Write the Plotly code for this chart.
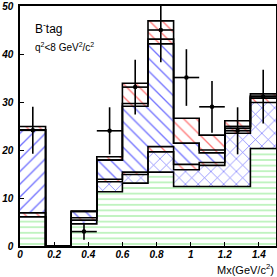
import numpy as np
import plotly.graph_objects as go

# ---- data ----
bin_edges = [0.0, 0.15, 0.30, 0.45, 0.60, 0.75, 0.90, 1.05, 1.20, 1.35, 1.50]
bin_centers = [0.075, 0.225, 0.375, 0.525, 0.675, 0.825, 0.975, 1.125, 1.275, 1.425]

green = [6.1, 0.0, 4.6, 11.3, 13.1, 15.4, 12.4, 12.4, 12.4, 20.3]
cross = [0.0, 0.0, 0.8, 2.1, 1.8, 4.2, 3.5, 4.4, 11.1, 9.6]
pink = [0.8, 0.0, 0.5, 0.5, 0.5, 1.1, 1.1, 0.6, 1.0, 0.9]
blue = [17.3, 0.0, 1.3, 4.0, 13.7, 21.4, 4.4, 2.0, 0.4, 0.4]
thin = [0.0, 0.0, 0.0, 0.0, 0.6, 1.0, 0.0, 0.6, 0.0, 0.0]
red = [0.7, 0.0, 0.1, 0.7, 4.2, 3.8, 5.2, 3.1, 1.2, 0.5]

data_y = [24.1, None, 3.0, 24.0, 33.1, 45.0, 35.1, 29.0, 24.0, 31.1]
data_err = [4.9, None, 1.7, 4.9, 5.7, 6.7, 5.9, 5.4, 4.9, 5.6]

x_tick_vals = [0, 0.2, 0.4, 0.6, 0.8, 1.0, 1.2, 1.4]
x_tick_text = ["0", "0.2", "0.4", "0.6", "0.8", "1", "1.2", "1.4"]
y_tick_vals = [0, 10, 20, 30, 40, 50]
y_tick_text = ["0", "10", "20", "30", "40", "50"]

# ---- build stack ----
components = [green, cross, pink, blue, thin, red]
levels = np.cumsum(np.array(components), axis=0)
bases = np.vstack([np.zeros(len(bin_centers)), levels[:-1]])

blue_shapes = ["/"] + ["\\"] * (len(bin_centers) - 1)
BLUE = "rgb(115,115,255)"
RED = "rgb(255,120,120)"
styles = [
    dict(shape="-", fgcolor="rgb(150,235,150)", size=5.6, solidity=0.2),
    dict(shape="x", fgcolor=BLUE, size=9, solidity=0.15),
    dict(shape="\\", fgcolor=RED, size=9, solidity=0.15),
    dict(shape=blue_shapes, fgcolor=BLUE, size=9, solidity=0.15),
    dict(shape="\\", fgcolor=RED, size=9, solidity=0.15),
    dict(shape="\\", fgcolor=RED, size=9, solidity=0.15),
]

fig = go.Figure()
for comp, base, st in zip(components, bases, styles):
    fig.add_trace(go.Bar(
        x=bin_centers, y=comp, base=base, width=0.15,
        marker=dict(color="white", line=dict(width=0),
                    pattern=dict(bgcolor="white", fillmode="replace", **st)),
        hoverinfo="skip",
    ))

for lev in levels:
    yy = list(lev) + [lev[-1]]
    fig.add_trace(go.Scatter(
        x=bin_edges, y=yy, mode="lines",
        line=dict(shape="hv", color="black", width=1.6),
        hoverinfo="skip",
    ))

fig.add_trace(go.Scatter(
    x=bin_centers, y=data_y, mode="markers",
    marker=dict(color="black", size=4.5),
    error_y=dict(type="data", array=data_err, color="black", thickness=1.6, width=0),
    error_x=dict(type="constant", value=0.075, color="black", thickness=1.6, width=0),
    hoverinfo="skip",
))

tickfont = dict(family="Liberation Sans", size=10, color="black", weight="bold", style="italic")

fig.update_layout(
    width=277, height=277,
    margin=dict(l=20, r=1, t=6, b=31),
    barmode="overlay", bargap=0,
    showlegend=False,
    plot_bgcolor="white", paper_bgcolor="white",
    xaxis=dict(range=[0, 1.5], tickvals=x_tick_vals, ticktext=x_tick_text,
               ticks="inside", ticklen=4, tickwidth=1, tickcolor="black",
               showline=True, linecolor="black", linewidth=1.5, mirror=True,
               showgrid=False, zeroline=False, tickfont=tickfont, automargin=False,
               ticklabelstandoff=-2),
    yaxis=dict(range=[0, 50], tickvals=y_tick_vals, ticktext=y_tick_text,
               ticks="inside", ticklen=4, tickwidth=1, tickcolor="black",
               showline=True, linecolor="black", linewidth=1.5, mirror=True,
               showgrid=False, zeroline=False, tickfont=tickfont, automargin=False,
               ticklabelstandoff=3),
    annotations=[
        dict(text="Mx(GeV/c<sup>2</sup>)", xref="paper", yref="paper", x=1.0, y=-0.096,
             xanchor="right", yanchor="middle", showarrow=False,
             font=dict(family="Liberation Sans", size=11, color="black")),
        dict(text="B<sup>-</sup>tag", xref="x", yref="y", x=0.076, y=45.5,
             xanchor="left", yanchor="middle", showarrow=False,
             font=dict(family="Liberation Sans", size=12, color="black")),
        dict(text="q<sup>2</sup>&lt;8 GeV<sup>2</sup>/c<sup>2</sup>", xref="x", yref="y",
             x=0.076, y=41.5, xanchor="left", yanchor="middle", showarrow=False,
             font=dict(family="Liberation Sans", size=10, color="black")),
    ],
)

fig.write_html("out.html", config={"displayModeBar": False},
               post_script="document.body.style.margin='0';document.body.style.overflow='hidden';")
